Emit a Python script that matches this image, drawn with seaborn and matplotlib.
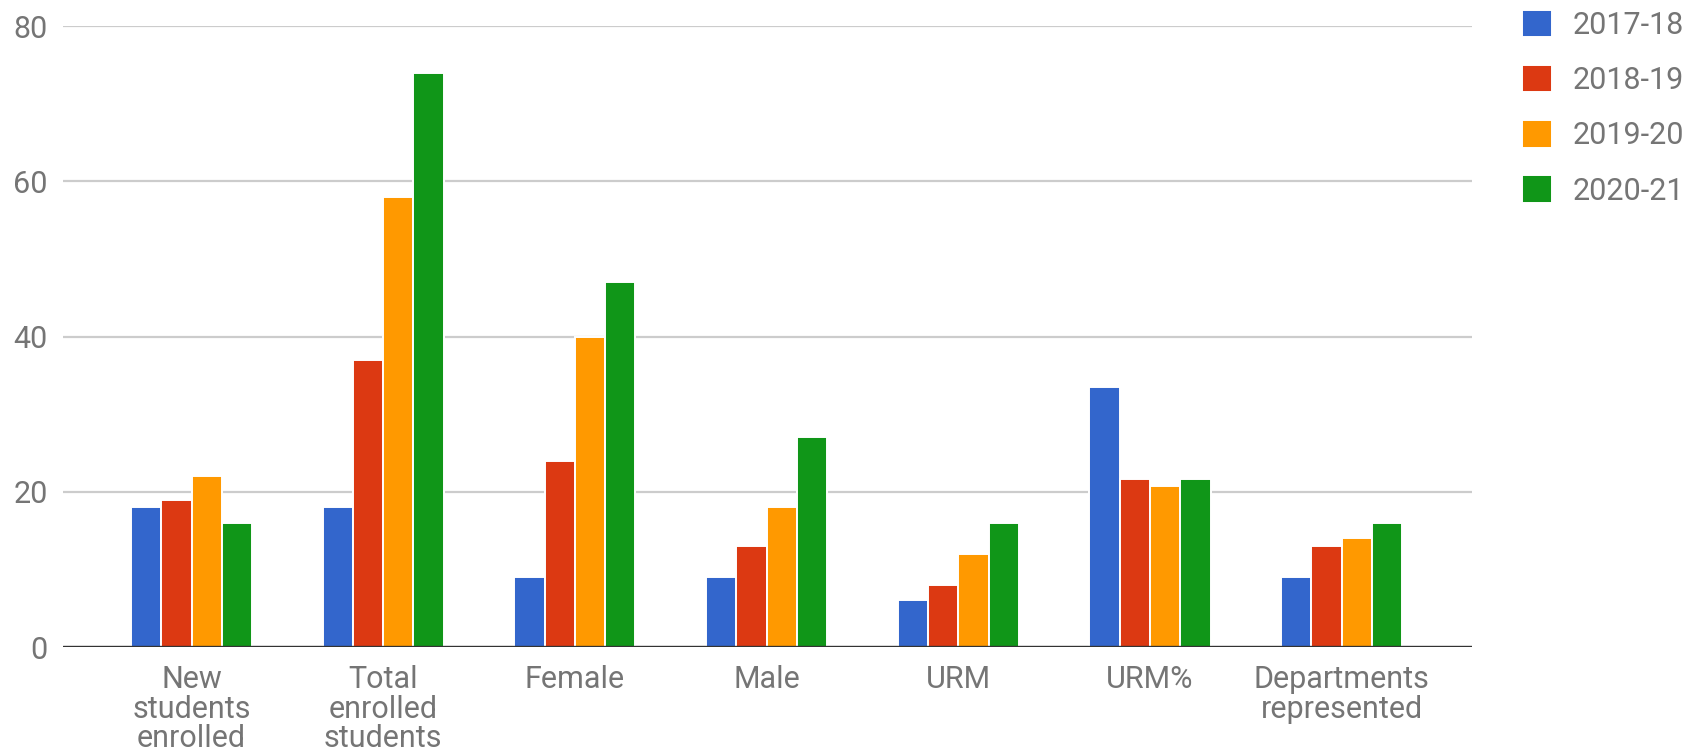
import matplotlib
matplotlib.use("Agg")
import matplotlib.pyplot as plt
import seaborn as sns
import pandas as pd

categories = ["New\nstudents\nenrolled", "Total\nenrolled\nstudents", "Female", "Male",
              "URM", "URM%", "Departments\nrepresented"]
years = ["2017-18", "2018-19", "2019-20", "2020-21"]
v_2017_18 = [18, 18, 9, 9, 6, 33.5, 9]
v_2018_19 = [19, 37, 24, 13, 8, 21.7, 13]
v_2019_20 = [22, 58, 40, 18, 12, 20.8, 14]
v_2020_21 = [16, 74, 47, 27, 16, 21.7, 16]
y_ticks = [0, 20, 40, 60, 80]

colors = ["#3366cc", "#dc3912", "#ff9900", "#109618"]
text_grey = "#757575"

series = [v_2017_18, v_2018_19, v_2019_20, v_2020_21]
rows = []
for year, vals in zip(years, series):
    for cat, v in zip(categories, vals):
        rows.append({"category": cat, "year": year, "value": v})
df = pd.DataFrame(rows)

sns.set_theme(style="white")
plt.rcParams["font.family"] = ["Roboto", "DejaVu Sans"]

fig = plt.figure(figsize=(16.91, 7.54), dpi=100)
ax = fig.add_axes([0.0373, 0.1419, 0.8332, 0.8236])

sns.barplot(data=df, x="category", y="value", hue="year", order=categories,
            hue_order=years, palette=colors, width=0.632, ax=ax,
            edgecolor="white", linewidth=1.4, saturation=1, legend=True)

ax.set_ylim(0, 80)
ax.set_xlim(-0.67, 6.68)
ax.set_yticks(y_ticks)
ax.yaxis.grid(True, color="#cccccc", linewidth=1.6)
ax.set_axisbelow(True)
for s in ["top", "right", "left", "bottom"]:
    ax.spines[s].set_visible(False)
ax.axhline(0, color="#333333", linewidth=2.4, zorder=5)

ax.set_xlabel("")
ax.set_ylabel("")
ax.tick_params(axis="y", length=0, pad=11, labelsize=22, labelcolor=text_grey)
ax.tick_params(axis="x", length=0, pad=13, labelsize=22, labelcolor=text_grey)
for lbl in ax.get_xticklabels():
    lbl.set_linespacing(1.02)
    lbl.set_verticalalignment("top")

handles, labels = ax.get_legend_handles_labels()
ax.get_legend().remove()
fig.legend(handles, labels, loc="upper left", bbox_to_anchor=(0.9, 0.987),
           frameon=False, fontsize=22, labelcolor=text_grey,
           handlelength=1.0, handleheight=1.0, handletextpad=0.65,
           labelspacing=0.82, borderpad=0, borderaxespad=0)

fig.savefig("out.png", dpi=100, facecolor="white")
